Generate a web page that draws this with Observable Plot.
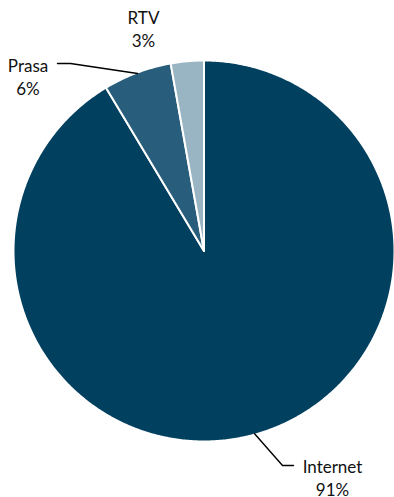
<!DOCTYPE html>
<html>
<head>
<meta charset="utf-8">
<script src="https://cdn.jsdelivr.net/npm/d3@7"></script>
<script src="https://cdn.jsdelivr.net/npm/@observablehq/plot@0.6"></script>
<style>
  html, body { margin: 0; padding: 0; background: #fff; }
  #chart { width: 394px; height: 497px; }
</style>
</head>
<body>
<div id="chart"></div>
<script>
// Data
const categories = ["Internet", "Prasa", "RTV"];
const values = [91.4, 5.8, 2.8];
const valueLabels = ["91%", "6%", "3%"];
const colors = ["#02405f", "#285e7b", "#99b5c3"];

// Layout (pixels)
const W = 394, H = 497;
const CX = 203.5, CY = 250.5, R = 190.5;
const labelLayout = {
  Internet: { text: [332, 476.5], elbow: [282, 465], end: [293, 465] },
  Prasa:    { text: [27.5, 75.5], elbow: [70, 63],  end: [57, 63] },
  RTV:      { text: [143, 27.5] }
};
const toData = ([px, py]) => [(px - CX) / R, (CY - py) / R];

const pie = d3.pie().sort(null).value(d => d.value)(
  categories.map((c, i) => ({ name: c, value: values[i], label: valueLabels[i] }))
);

// slice polygons in data units (unit radius)
const slicePts = [];
for (const a of pie) {
  const n = Math.max(4, Math.ceil((a.endAngle - a.startAngle) / (Math.PI / 360)));
  slicePts.push({ name: a.data.name, x: 0, y: 0 });
  for (let k = 0; k <= n; k++) {
    const t = a.startAngle + (a.endAngle - a.startAngle) * k / n;
    slicePts.push({ name: a.data.name, x: Math.sin(t), y: Math.cos(t) });
  }
  slicePts.push({ name: a.data.name, x: 0, y: 0 });
}

// leader lines
const leaderPts = [];
for (const a of pie) {
  const L = labelLayout[a.data.name];
  if (!L.elbow) continue;
  const m = (a.startAngle + a.endAngle) / 2;
  leaderPts.push({ name: a.data.name, x: Math.sin(m) * 0.995, y: Math.cos(m) * 0.995 });
  const e = toData(L.elbow), f = toData(L.end);
  leaderPts.push({ name: a.data.name, x: e[0], y: e[1] });
  leaderPts.push({ name: a.data.name, x: f[0], y: f[1] });
}

const labels = pie.map(a => {
  const p = toData(labelLayout[a.data.name].text);
  return { x: p[0], y: p[1], text: a.data.name + "\n" + a.data.label };
});

const chart = Plot.plot({
  width: W,
  height: H,
  margin: 0,
  x: { domain: [(0 - CX) / R, (W - CX) / R], axis: null },
  y: { domain: [(CY - H) / R, CY / R], axis: null },
  color: { domain: categories, range: colors },
  style: { fontFamily: "Lato, 'Open Sans', sans-serif", background: "#fff" },
  marks: [
    Plot.line(slicePts, { x: "x", y: "y", z: "name", fill: "name", stroke: "white", strokeWidth: 2, curve: "linear", strokeLinejoin: "round" }),
    Plot.line(leaderPts, { x: "x", y: "y", z: "name", stroke: "#000", strokeWidth: 1.4 }),
    Plot.text(labels, { x: "x", y: "y", text: "text", fontSize: 17, lineHeight: 1.33, fill: "#111", textAnchor: "middle" })
  ]
});
document.getElementById("chart").appendChild(chart);
</script>
</body>
</html>
